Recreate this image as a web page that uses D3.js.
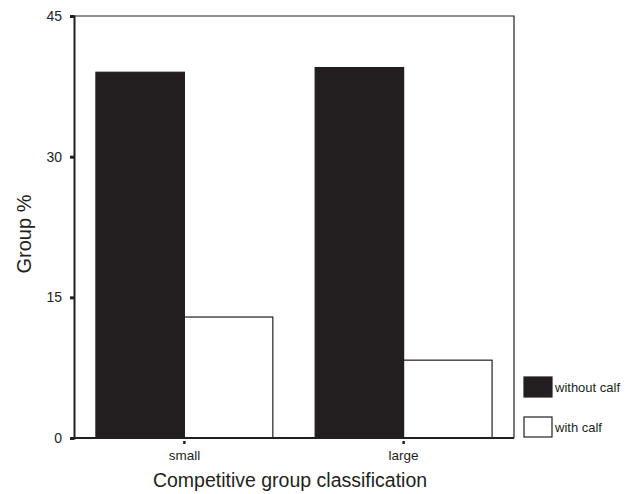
<!DOCTYPE html>
<html><head><meta charset="utf-8">
<script src="https://cdn.jsdelivr.net/npm/d3@7"></script>
<style>body{margin:0;background:#fff}svg{display:block;font-family:"Liberation Sans",Arial,sans-serif}</style>
</head><body>
<svg id="c" width="627" height="494"></svg>
<script>
const categories = ["small", "large"];
const seriesNames = ["without calf", "with calf"];
const withoutCalf = [39.0, 39.5];
const withCalf = [12.9, 8.3];
const yTicks = [0, 15, 30, 45];

const ink = "#231f20";
const svg = d3.select("#c");
const L = 74, R = 514, T = 16, B = 438;

const x = d3.scaleBand().domain(categories).range([L, R]).paddingInner(0.193).paddingOuter(0.1);
const xs = d3.scaleBand().domain(seriesNames).range([0, x.bandwidth()]);
const y = d3.scaleLinear().domain([0, 45]).range([B, T]);

const data = categories.map((c, i) => ({cat: c, vals: [withoutCalf[i], withCalf[i]]}));
const fills = [ink, "#fff"];

// frame top/right
svg.append("path").attr("d", `M${L},${T}H${R}V${B}`).attr("fill", "none").attr("stroke", ink).attr("stroke-width", 1.2);

// bars
data.forEach(d => {
  d.vals.forEach((v, j) => {
    svg.append("rect")
      .attr("x", x(d.cat) + xs(seriesNames[j]))
      .attr("y", y(v))
      .attr("width", xs.bandwidth())
      .attr("height", y(0) - y(v))
      .attr("fill", fills[j])
      .attr("stroke", ink)
      .attr("stroke-width", 1.2);
  });
});

// y axis
const ya = svg.append("g").attr("transform", `translate(${L},0)`)
  .call(d3.axisLeft(y).tickValues(yTicks).tickSize(4).tickPadding(8));
ya.select(".domain").attr("stroke", ink).attr("stroke-width", 2);
ya.selectAll(".tick line").attr("stroke", ink).attr("stroke-width", 3);
ya.selectAll(".tick text").attr("font-size", 14).attr("fill", ink).attr("font-family", "Liberation Sans, Arial, sans-serif");

// x axis
const xa = svg.append("g").attr("transform", `translate(0,${B})`)
  .call(d3.axisBottom(x).tickSize(4).tickPadding(8).tickSizeOuter(0));
xa.select(".domain").attr("stroke", ink).attr("stroke-width", 2).attr("d", `M${L - 4},0H${R}`);
xa.selectAll(".tick line").attr("stroke", ink).attr("stroke-width", 2.5).attr("y1", 3).attr("y2", 6);
xa.selectAll(".tick text").attr("font-size", 13.5).attr("fill", ink).attr("font-family", "Liberation Sans, Arial, sans-serif");

// axis titles
svg.append("text").attr("transform", `translate(31,234) rotate(-90)`)
  .attr("text-anchor", "middle").attr("font-size", 20).attr("fill", ink).text("Group %");
svg.append("text").attr("x", 290).attr("y", 487)
  .attr("text-anchor", "middle").attr("font-size", 19.5).attr("fill", ink).text("Competitive group classification");

// legend
const lg = svg.append("g");
seriesNames.forEach((s, j) => {
  const yy = 377 + j * 40;
  lg.append("rect").attr("x", 524).attr("y", yy).attr("width", 28).attr("height", 20)
    .attr("fill", fills[j]).attr("stroke", ink).attr("stroke-width", 1.2);
  lg.append("text").attr("x", 555).attr("y", yy + 15).attr("font-size", 13).attr("fill", ink).text(s);
});
</script>
</body></html>
